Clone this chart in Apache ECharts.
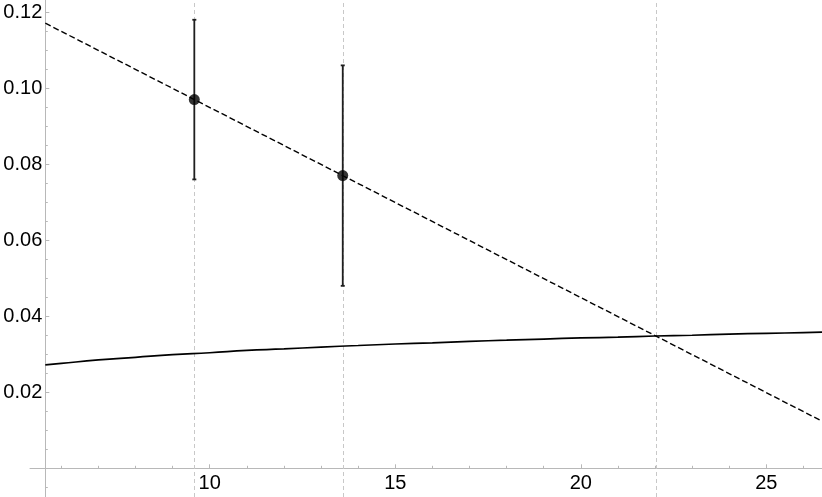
<!DOCTYPE html>
<html>
<head>
<meta charset="utf-8">
<script src="https://cdn.jsdelivr.net/npm/echarts@6/dist/echarts.min.js"></script>
<style>
  html, body { margin: 0; padding: 0; background: #fff; }
  #main { width: 822px; height: 497px; }
</style>
</head>
<body>
<div id="main"></div>
<script>
// measured points with error bars
var pointX = [9.585, 13.585];
var pointY = [0.097, 0.077];
var errLow = [0.076, 0.048];
var errHigh = [0.118, 0.106];

// dashed fit line (end points)
var fitX = [5.57, 26.5];
var fitY = [0.1171, 0.0124];

// solid curve
var curveX = [5.57, 6, 7, 8, 9, 10, 11, 12, 13, 14, 15, 16, 17, 18, 19, 20, 21, 22, 23, 24, 25, 26, 26.5];
var curveY = [0.0272, 0.0276, 0.0285, 0.0292, 0.0299, 0.0304, 0.0310, 0.0314, 0.0319, 0.0323, 0.0327, 0.0330,
              0.0334, 0.0337, 0.0340, 0.0343, 0.0345, 0.0348, 0.0350, 0.0353, 0.0355, 0.0357, 0.0358];

// vertical guide lines
var guideX = [9.585, 13.585, 22.03];

// ticks
var xMajor = [10, 15, 20, 25];
var xMinor = [6, 7, 8, 9, 11, 12, 13, 14, 16, 17, 18, 19, 21, 22, 23, 24, 26];
var yLabels = [0.02, 0.04, 0.06, 0.08, 0.10, 0.12];
var yMajor = [0, 0.02, 0.04, 0.06, 0.08, 0.10, 0.12];
var yMinor = [-0.005, 0.005, 0.01, 0.015, 0.025, 0.03, 0.035, 0.045, 0.05, 0.055, 0.065, 0.07, 0.075,
              0.085, 0.09, 0.095, 0.105, 0.11, 0.115];

var X_MIN = 5.157, X_MAX = 26.5, Y_MIN = -0.00755, Y_MAX = 0.1232;
var axisGray = '#b8b8b8';
var font = 'Liberation Sans, Arial, sans-serif';

var chart = echarts.init(document.getElementById('main'));

var zip = function(xs, ys){
  return xs.map(function(x, i){ return [x, ys[i]]; });
};

var baseX = {
  type: 'value', min: X_MIN, max: X_MAX, position: 'bottom', offset: -28.7,
  axisLine: { onZero: false },
  splitLine: { show: false }
};
var baseY = {
  type: 'value', min: Y_MIN, max: Y_MAX, position: 'left', offset: -15.3,
  axisLine: { onZero: false },
  splitLine: { show: false }
};

chart.setOption({
  animation: false,
  grid: { left: 30, right: 0, top: 0, bottom: 0, outerBoundsMode: 'none', containLabel: false },
  xAxis: [
    echarts.util.merge({
      axisLine: { show: true, lineStyle: { color: axisGray, width: 1 } },
      axisTick: { show: true, inside: true, length: 4, customValues: xMajor, lineStyle: { color: axisGray } },
      axisLabel: { show: true, customValues: xMajor, margin: 5, color: '#000', fontSize: 20, fontFamily: font }
    }, baseX, true),
    echarts.util.merge({
      axisLine: { show: false },
      axisTick: { show: true, inside: true, length: 2.5, customValues: xMinor, lineStyle: { color: axisGray } },
      axisLabel: { show: false }
    }, baseX, true)
  ],
  yAxis: [
    echarts.util.merge({
      axisLine: { show: true, lineStyle: { color: axisGray, width: 1 } },
      axisTick: { show: true, inside: true, length: 4, customValues: yMajor, lineStyle: { color: axisGray } },
      axisLabel: {
        show: true, customValues: yLabels, margin: 3, color: '#000', fontSize: 20, fontFamily: font,
        formatter: function(v){ return v.toFixed(2); }
      }
    }, baseY, true),
    echarts.util.merge({
      axisLine: { show: false },
      axisTick: { show: true, inside: true, length: 2.5, customValues: yMinor, lineStyle: { color: axisGray } },
      axisLabel: { show: false }
    }, baseY, true)
  ],
  series: [
    {
      //竖直参考线
      type: 'line', data: [], silent: true, z: 1,
      markLine: {
        symbol: 'none', silent: true, label: { show: false }, z: 1,
        lineStyle: { color: '#c8c8c8', type: [4, 3], width: 1 },
        data: guideX.map(function(x){ return { xAxis: x }; })
      }
    },
    {
      type: 'line', data: zip(curveX, curveY), showSymbol: false, smooth: true,
      lineStyle: { color: '#000', width: 1.7 }, z: 3
    },
    {
      type: 'line', data: zip(fitX, fitY), showSymbol: false,
      lineStyle: { color: '#000', width: 1.4, type: [6, 3] }, z: 3
    },
    {
      //误差棒
      type: 'custom', z: 10,
      data: pointX.map(function(x, i){ return [x, errLow[i], errHigh[i]]; }),
      renderItem: function(params, api){
        var lo = api.coord([api.value(0), api.value(1)]);
        var hi = api.coord([api.value(0), api.value(2)]);
        var cap = 2;
        var style = { stroke: '#1f1f1f', lineWidth: 1.8 };
        return {
          type: 'group',
          children: [
            { type: 'line', shape: { x1: lo[0], y1: lo[1], x2: hi[0], y2: hi[1] }, style: style },
            { type: 'line', shape: { x1: lo[0] - cap, y1: lo[1], x2: lo[0] + cap, y2: lo[1] }, style: style },
            { type: 'line', shape: { x1: hi[0] - cap, y1: hi[1], x2: hi[0] + cap, y2: hi[1] }, style: style }
          ]
        };
      }
    },
    {
      type: 'scatter', data: zip(pointX, pointY), symbol: 'circle', symbolSize: 11,
      itemStyle: { color: '#000' }, z: 11
    }
  ]
});
</script>
</body>
</html>
